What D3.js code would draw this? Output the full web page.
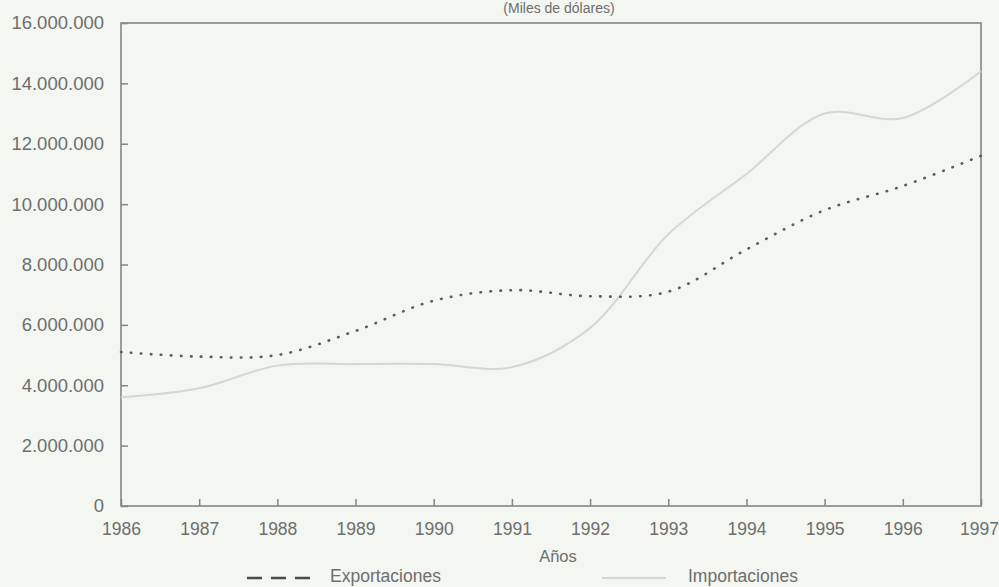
<!DOCTYPE html>
<html>
  <head>
    <meta charset="utf-8" />
    <script src="https://d3js.org/d3.v7.min.js"></script>
    <style>
      body { margin: 0; background: #f3f6f1; }
      text { font-family: "Liberation Sans", Arial, sans-serif; fill: #6e6e6e; }
    </style>
  </head>
  <body>
    <div id="chart"></div>
    <script>
      // Comercio exterior, miles de dólares
      var years = [1986, 1987, 1988, 1989, 1990, 1991, 1992, 1993, 1994, 1995, 1996, 1997];
      var exportaciones = [5100000, 4950000, 5000000, 5800000, 6800000, 7150000, 6950000, 7100000, 8500000, 9800000, 10600000, 11600000];
      var importaciones = [3600000, 3900000, 4650000, 4700000, 4700000, 4600000, 5900000, 9000000, 11000000, 13000000, 12850000, 14400000];
      var yTicks = [0, 2000000, 4000000, 6000000, 8000000, 10000000, 12000000, 14000000, 16000000];

      var width = 999, height = 587;
      var margin = { top: 23, right: 18, bottom: 81, left: 121 };

      var svg = d3.select("#chart").append("svg")
        .attr("width", width)
        .attr("height", height);

      var x = d3.scaleLinear().domain([1986, 1997]).range([margin.left, width - margin.right]);
      var y = d3.scaleLinear().domain([0, 16000000]).range([height - margin.bottom, margin.top]);

      var fmt = function (d) {
        return d3.format(",")(d).replace(/,/g, ".");
      };

      // title
      svg.append("text")
        .attr("x", 559).attr("y", 13)
        .attr("text-anchor", "middle")
        .style("font-size", "14px")
        .text("(Miles de dólares)");

      // frame
      svg.append("rect")
        .attr("x", margin.left).attr("y", margin.top)
        .attr("width", width - margin.left - margin.right)
        .attr("height", height - margin.top - margin.bottom)
        .attr("fill", "none")
        .attr("stroke", "#858585")
        .attr("stroke-width", 1.6);

      // y axis, ticks inside
      var yAxis = svg.append("g")
        .attr("transform", "translate(" + margin.left + ",0)")
        .call(d3.axisRight(y).tickValues(yTicks).tickFormat(fmt).tickSize(7).tickPadding(0));
      yAxis.select(".domain").remove();
      yAxis.selectAll("line").attr("stroke", "#858585").attr("stroke-width", 1.5);
      yAxis.selectAll("text")
        .attr("x", -17)
        .attr("text-anchor", "end")
        .style("font-size", "18.5px")
        .attr("fill", "#6e6e6e");

      // x axis, ticks inside
      var xAxis = svg.append("g")
        .attr("transform", "translate(0," + (height - margin.bottom) + ")")
        .call(d3.axisTop(x).tickValues(years).tickFormat(d3.format("d")).tickSize(7));
      xAxis.select(".domain").remove();
      xAxis.selectAll("line").attr("stroke", "#858585").attr("stroke-width", 1.5);
      xAxis.selectAll("text")
        .attr("y", 29)
        .attr("dy", 0)
        .attr("dx", function (d) { return d === 1997 ? -2 : 0; })
        .style("font-size", "17.5px")
        .attr("fill", "#6e6e6e");

      svg.append("text")
        .attr("x", 558).attr("y", 562)
        .attr("text-anchor", "middle")
        .style("font-size", "16.5px")
        .text("Años");

      var line = d3.line()
        .x(function (d, i) { return x(years[i]); })
        .y(function (d) { return y(d); })
        .curve(d3.curveCatmullRom.alpha(0.5));

      svg.append("path")
        .datum(importaciones)
        .attr("d", line)
        .attr("fill", "none")
        .attr("stroke", "#d3d8d3")
        .attr("stroke-width", 2);

      svg.append("path")
        .datum(exportaciones)
        .attr("d", line)
        .attr("fill", "none")
        .attr("stroke", "#5c5c5c")
        .attr("stroke-width", 2.6)
        .attr("stroke-linecap", "round")
        .attr("stroke-dasharray", "0.5,9.5");

      // legend
      var legend = svg.append("g");
      legend.append("line")
        .attr("x1", 247).attr("x2", 313).attr("y1", 578).attr("y2", 578)
        .attr("stroke", "#4a4a4a").attr("stroke-width", 2.5)
        .attr("stroke-dasharray", "15,9");
      legend.append("text")
        .attr("x", 330).attr("y", 582)
        .style("font-size", "17.5px")
        .text("Exportaciones");
      legend.append("line")
        .attr("x1", 602).attr("x2", 666).attr("y1", 578).attr("y2", 578)
        .attr("stroke", "#d3d8d3").attr("stroke-width", 2);
      legend.append("text")
        .attr("x", 688).attr("y", 582)
        .style("font-size", "17.5px")
        .text("Importaciones");
    </script>
  </body>
</html>
